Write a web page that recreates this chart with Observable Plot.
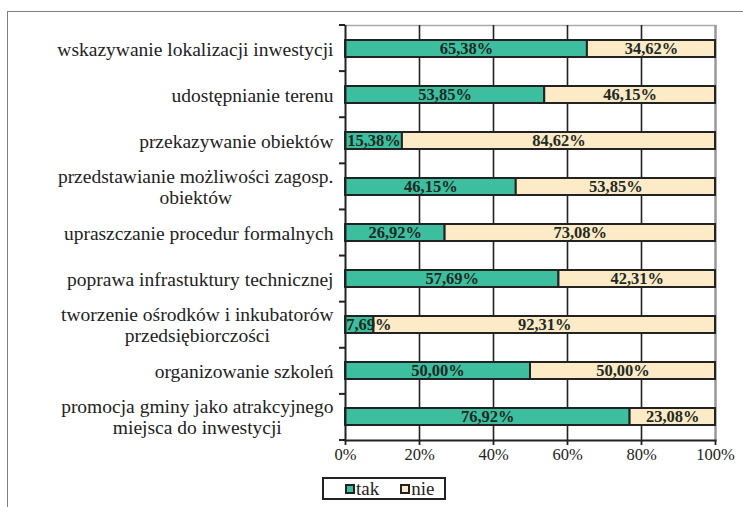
<!DOCTYPE html>
<html>
<head>
<meta charset="utf-8">
<script src="https://cdn.jsdelivr.net/npm/d3@7"></script>
<script src="https://cdn.jsdelivr.net/npm/@observablehq/plot@0.6"></script>
<style>
  html, body { margin: 0; padding: 0; background: #fff; }
  #wrap { position: relative; width: 743px; height: 507px; overflow: hidden; font-family: "Liberation Serif", "Times New Roman", serif; }
  #frame { position: absolute; left: 7px; top: 11px; width: 800px; height: 600px; border-left: 1.5px solid #808080; border-top: 1.5px solid #808080; }
  #chart { position: absolute; left: 0; top: 0; }
  #legend { position: absolute; left: 322px; top: 477px; width: 120px; height: 19px; border: 2px solid #222; background: #fff; font-size: 19px; line-height: 19px; color: #222; display: flex; align-items: center; }
  .sw { display: inline-block; width: 6px; height: 6px; border: 2px solid #222; margin-right: 1px; }
  .item { display: flex; align-items: center; }
</style>
</head>
<body>
<div id="wrap">
  <div id="frame"></div>
  <div id="chart"></div>
  <div id="legend"></div>
</div>
<script>
const categories = [
  "wskazywanie lokalizacji inwestycji",
  "udostępnianie terenu",
  "przekazywanie obiektów",
  "przedstawianie możliwości zagosp.\nobiektów",
  "upraszczanie procedur formalnych",
  "poprawa infrastuktury technicznej",
  "tworzenie ośrodków i inkubatorów\nprzedsiębiorczości",
  "organizowanie szkoleń",
  "promocja gminy jako atrakcyjnego\nmiejsca do inwestycji"
];
const takValues = [65.38, 53.85, 15.38, 46.15, 26.92, 57.69, 7.69, 50.00, 76.92];
const nieValues = [34.62, 46.15, 84.62, 53.85, 73.08, 42.31, 92.31, 50.00, 23.08];
const seriesNames = ["tak", "nie"];
const seriesColors = ["#3dbf9f", "#fdebc8"];
const xTicks = [0, 20, 40, 60, 80, 100];

const W = 743, H = 507;
const mL = 345, mR = 28, mT = 25, mB = 67;
const plotW = W - mL - mR;
const pxPerUnit = plotW / 100;
const FF = "'Liberation Serif', 'Times New Roman', serif";

const canvas = document.createElement("canvas");
const ctx = canvas.getContext("2d");
function measure(txt, font) { ctx.font = font; return ctx.measureText(txt).width; }
const labelSize = 19.5, valueSize = 16.5;
const labelFont = `${labelSize}px 'Liberation Serif'`;
const valueFont = `bold ${valueSize}px 'Liberation Serif'`;

const fmt = v => v.toFixed(2).replace(".", ",") + "%";

const segs = [];
categories.forEach((c, i) => {
  segs.push({cat: c, series: "tak", x1: 0, x2: takValues[i], v: takValues[i]});
  segs.push({cat: c, series: "nie", x1: takValues[i], x2: takValues[i] + nieValues[i], v: nieValues[i]});
});
segs.forEach(s => {
  const half = measure(fmt(s.v), valueFont) / 2 / pxPerUnit;
  s.lx = Math.max((s.x1 + s.x2) / 2, s.x1 + half + 0.2);
});

const catLabels = categories.map(c => {
  const w = d3.max(c.split("\n"), l => measure(l, labelFont));
  return {cat: c, x: (-12 - w / 2) / pxPerUnit};
});

const plot = Plot.plot({
  width: W, height: H,
  marginLeft: mL, marginRight: mR, marginTop: mT, marginBottom: mB,
  style: {fontFamily: FF, background: "transparent"},
  x: {domain: [0, 100], axis: null},
  y: {domain: categories, paddingInner: 0.62, paddingOuter: 0.31, axis: null},
  color: {domain: seriesNames, range: seriesColors},
  marks: [
    Plot.frame({anchor: "top", stroke: "#aaa", strokeWidth: 1.5}),
    Plot.ruleX([100], {stroke: "#999", strokeWidth: 2.5}),
    Plot.ruleX(xTicks.filter(t => t > 0 && t < 100), {stroke: "#222", strokeWidth: 1.6}),
    Plot.barX(segs, {y: "cat", x1: "x1", x2: "x2", fill: "series", stroke: "#222", strokeWidth: 2}),
    Plot.text(segs, {y: "cat", x: "lx", text: d => fmt(d.v), fontFamily: FF, fontWeight: "bold", fontSize: valueSize, fill: "#1e2a24"}),
    Plot.text(catLabels, {y: "cat", x: "x", text: "cat", fontFamily: FF, textAnchor: "middle", fontSize: labelSize, lineHeight: 1.08, fill: "#222"}),
    Plot.ruleX([0], {stroke: "#222", strokeWidth: 2}),
    Plot.frame({anchor: "bottom", stroke: "#222", strokeWidth: 2}),
    Plot.axisX(xTicks, {tickFormat: d => d + "%", tickSize: 5, tickPadding: 3, fontSize: 16.5, fontFamily: FF, stroke: "#222", strokeWidth: 1.8, color: "#222"})
  ]
});

document.getElementById("chart").append(plot);
const svg = d3.select(plot);
const bandH = (H - mT - mB) / categories.length;
const g = svg.append("g").attr("stroke", "#222").attr("stroke-width", 2);
d3.range(categories.length + 1).forEach(b => {
  const yy = mT + b * bandH;
  g.append("line").attr("x1", mL - 6).attr("x2", mL).attr("y1", yy).attr("y2", yy);
});

const leg = document.getElementById("legend");
seriesNames.forEach((n, i) => {
  const it = document.createElement("span");
  it.className = "item";
  it.style.marginLeft = "21px";
  it.innerHTML = `<span class="sw" style="background:${seriesColors[i]}"></span>${n}`;
  leg.append(it);
});
</script>
</body>
</html>
